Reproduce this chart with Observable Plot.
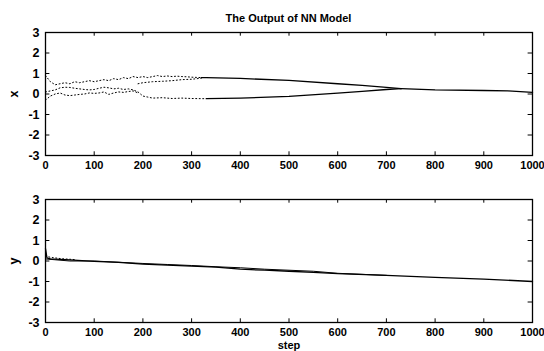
<!DOCTYPE html>
<html>
<head>
<meta charset="utf-8">
<script src="https://cdn.jsdelivr.net/npm/d3@7"></script>
<script src="https://cdn.jsdelivr.net/npm/@observablehq/plot@0.6"></script>
<style>
  html, body { margin: 0; padding: 0; background: #fff; }
  #wrap { position: relative; width: 544px; height: 351px; overflow: hidden; font-family: "Liberation Sans", Arial, sans-serif; }
  #title { position: absolute; top: 12px; left: 45px; width: 487px; text-align: center; font-size: 11px; font-weight: bold; z-index: 5; }
  .panel { position: absolute; left: 0; }
</style>
</head>
<body>
<div id="wrap">
  <div id="top" class="panel" style="top:0px"></div>
  <div id="bot" class="panel" style="top:175px"></div>
  <div id="title">The Output of NN Model</div>
</div>
<script>
// ---- data ----
const xTicks = [0, 100, 200, 300, 400, 500, 600, 700, 800, 900, 1000];
const yTicks = [-3, -2, -1, 0, 1, 2, 3];

// top panel "x": scattered early trajectories (dotted)
const xUpperDotSteps = [0, 10, 20, 30, 40, 50, 60, 70, 80, 90, 100, 110, 120, 130, 140, 150, 160, 170, 180, 190, 200, 210, 220, 230, 240, 250, 260, 270, 280, 290, 300, 320];
const xUpperDotVals  = [0.9, 0.6, 0.45, 0.5, 0.55, 0.5, 0.6, 0.55, 0.6, 0.65, 0.6, 0.65, 0.7, 0.65, 0.75, 0.7, 0.8, 0.75, 0.85, 0.8, 0.85, 0.8, 0.85, 0.9, 0.85, 0.88, 0.85, 0.87, 0.85, 0.84, 0.82, 0.8];
const xUpper2DotSteps = [190, 200, 220, 240, 260, 280, 300, 320];
const xUpper2DotVals  = [0.5, 0.55, 0.6, 0.62, 0.65, 0.7, 0.72, 0.77];
const xMidDotSteps = [0, 10, 20, 30, 40, 50, 60, 70, 80, 90, 100, 110, 120, 130, 140, 150, 160, 170, 180, 190, 200, 210, 220, 240, 260, 280, 300, 330];
const xMidDotVals  = [0.1, 0.15, 0.2, 0.3, 0.33, 0.32, 0.28, 0.25, 0.22, 0.2, 0.22, 0.28, 0.33, 0.3, 0.25, 0.28, 0.22, 0.25, 0.2, 0.1, -0.1, -0.15, -0.2, -0.18, -0.22, -0.2, -0.22, -0.23];
const xLowDotSteps = [0, 10, 20, 30, 40, 50, 60, 70, 80, 90, 100, 110, 120, 130, 140, 150, 160, 170, 180, 190];
const xLowDotVals  = [-0.3, -0.1, 0.0, 0.05, -0.05, -0.08, -0.05, -0.02, 0.0, 0.05, 0.03, 0.05, 0.1, -0.02, 0.05, 0.1, 0.08, 0.12, 0.15, 0.05];

// top panel "x": converged solid trajectories
const xUpperSteps = [320, 330, 400, 500, 600, 650, 700, 730];
const xUpperVals  = [0.8, 0.8, 0.76, 0.66, 0.5, 0.42, 0.32, 0.26];
const xLowerSteps = [330, 400, 500, 600, 650, 700, 730];
const xLowerVals  = [-0.23, -0.2, -0.12, 0.04, 0.13, 0.22, 0.26];
const xTailSteps = [730, 800, 900, 950, 1000];
const xTailVals  = [0.26, 0.2, 0.17, 0.15, 0.08];

// bottom panel "y"
const yASteps = [0, 3, 10, 50, 100, 150, 200, 250, 300, 350, 400, 450, 500, 550, 600, 700, 800, 900, 1000];
const yAVals  = [0.6, 0.15, 0.1, 0.05, -0.02, -0.07, -0.15, -0.2, -0.25, -0.3, -0.4, -0.45, -0.5, -0.55, -0.62, -0.7, -0.8, -0.88, -1.0];
const yBSteps = [0, 50, 100, 200, 250, 300, 350, 400, 450, 500, 550, 600, 700];
const yBVals  = [0.1, 0.0, 0.0, -0.12, -0.17, -0.22, -0.28, -0.33, -0.4, -0.45, -0.5, -0.6, -0.7];
const yNoiseSteps = [0, 10, 20, 30, 40, 60];
const yNoiseVals  = [0.25, 0.18, 0.15, 0.12, 0.1, 0.07];

const zip = (s, v) => s.map((step, i) => ({step, v: v[i]}));

const font = "Liberation Sans, Arial, sans-serif";

function frameMarks() {
  return [
    Plot.ruleX(xTicks, {y1: -3, y2: -2.82, stroke: "black"}),
    Plot.ruleX(xTicks, {y1: 3, y2: 2.82, stroke: "black"}),
    Plot.ruleY(yTicks, {x1: 0, x2: 9, stroke: "black"}),
    Plot.ruleY(yTicks, {x1: 1000, x2: 991, stroke: "black"}),
    Plot.frame({stroke: "black", strokeWidth: 1.3})
  ];
}

function basePlot(opts, marks, ylab, xlab) {
  return Plot.plot({
    width: 544,
    height: opts.height,
    marginLeft: 45,
    marginRight: 12,
    marginTop: opts.mt,
    marginBottom: opts.mb,
    style: {fontFamily: font, fontSize: "12.5px", fontWeight: "bold", background: "white", color: "black", overflow: "visible"},
    x: {domain: [0, 1000]},
    y: {domain: [-3, 3]},
    marks: [
      Plot.axisX({ticks: xTicks, tickSize: 0, tickPadding: 6, tickFormat: d3.format("d"), label: xlab, labelAnchor: "center", labelOffset: 26, labelArrow: "none", fontSize: 11}),
      Plot.axisY({ticks: yTicks, tickSize: 0, tickPadding: 6, tickFormat: d => d < 0 ? "-" + (-d) : String(d), label: ylab, labelAnchor: "center", labelOffset: 36, labelArrow: "none", fontSize: 12.5}),
      ...marks,
      ...frameMarks()
    ]
  });
}

const dotted = {x: "step", y: "v", stroke: "black", strokeWidth: 1, strokeDasharray: "1 2.5", curve: "linear"};
const solid = {x: "step", y: "v", stroke: "black", strokeWidth: 1.3};

const topPlot = basePlot({height: 175, mt: 32, mb: 20}, [
  Plot.line(zip(xUpperDotSteps, xUpperDotVals), dotted),
  Plot.line(zip(xUpper2DotSteps, xUpper2DotVals), dotted),
  Plot.line(zip(xMidDotSteps, xMidDotVals), dotted),
  Plot.line(zip(xLowDotSteps, xLowDotVals), dotted),
  Plot.line(zip(xUpperSteps, xUpperVals), solid),
  Plot.line(zip(xLowerSteps, xLowerVals), solid),
  Plot.line(zip(xTailSteps, xTailVals), solid)
], "x", null);

const botPlot = basePlot({height: 176, mt: 24, mb: 29}, [
  Plot.line(zip(yNoiseSteps, yNoiseVals), dotted),
  Plot.line(zip(yASteps, yAVals), solid),
  Plot.line(zip(yBSteps, yBVals), {...solid, strokeWidth: 1})
], "y", "step");

document.getElementById("top").appendChild(topPlot);
document.getElementById("bot").appendChild(botPlot);
</script>
</body>
</html>
